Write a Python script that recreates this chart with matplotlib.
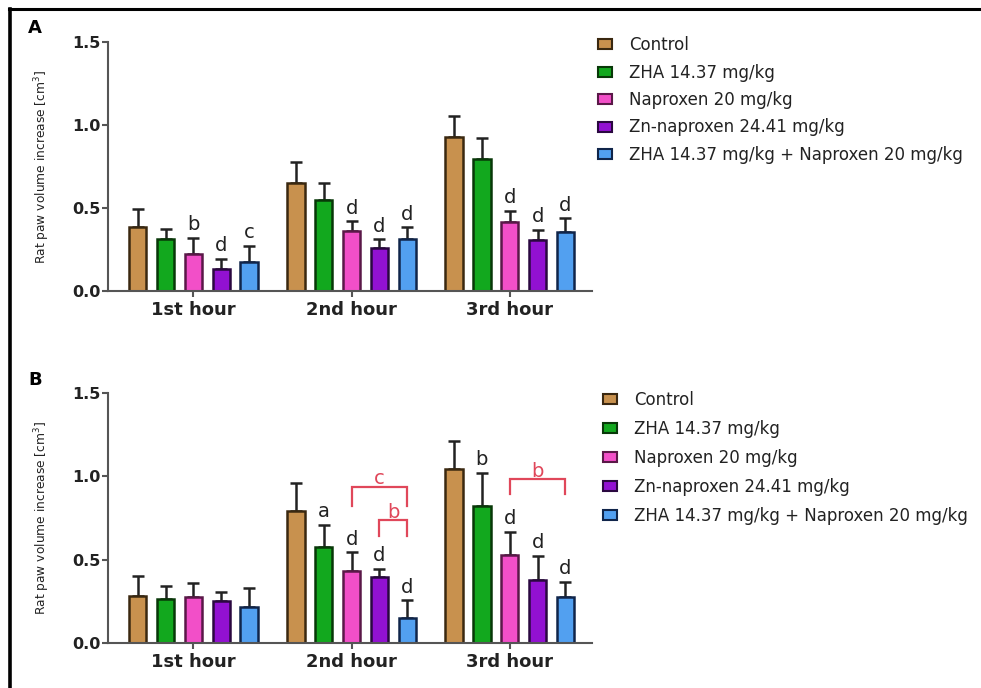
import matplotlib
matplotlib.use("Agg")
import matplotlib.pyplot as plt
from matplotlib.lines import Line2D
from matplotlib.patches import Patch
import numpy as np

plt.rcParams['font.family'] = ['DejaVu Sans']

hours = ["1st hour", "2nd hour", "3rd hour"]
groups = ["Control", "ZHA 14.37 mg/kg", "Naproxen 20 mg/kg",
          "Zn-naproxen 24.41 mg/kg", "ZHA 14.37 mg/kg + Naproxen 20 mg/kg"]
fill_colors = ["#C8914E", "#12A81E", "#F24FC8", "#9211D2", "#52A0F0"]
edge_colors = ["#3A2810", "#083808", "#5A1848", "#2A0840", "#10254A"]

# Panel A: mean paw volume increase and SD (upper whisker) per group, per hour
a_means = {
    "Control":   [0.388, 0.653, 0.927],
    "ZHA":       [0.312, 0.547, 0.794],
    "Naproxen":  [0.221, 0.360, 0.418],
    "Zn":        [0.131, 0.257, 0.308],
    "Combo":     [0.175, 0.312, 0.358],
}
a_sd = {
    "Control":   [0.106, 0.127, 0.130],
    "ZHA":       [0.060, 0.106, 0.127],
    "Naproxen":  [0.101, 0.060, 0.066],
    "Zn":        [0.062, 0.055, 0.060],
    "Combo":     [0.096, 0.072, 0.080],
}
a_letters = {
    "Control":   ["", "", ""],
    "ZHA":       ["", "", ""],
    "Naproxen":  ["b", "d", "d"],
    "Zn":        ["d", "d", "d"],
    "Combo":     ["c", "d", "d"],
}

# Panel B
b_means = {
    "Control":   [0.284, 0.790, 1.046],
    "ZHA":       [0.266, 0.574, 0.824],
    "Naproxen":  [0.276, 0.430, 0.526],
    "Zn":        [0.252, 0.394, 0.380],
    "Combo":     [0.214, 0.148, 0.276],
}
b_sd = {
    "Control":   [0.120, 0.168, 0.164],
    "ZHA":       [0.076, 0.136, 0.196],
    "Naproxen":  [0.084, 0.114, 0.140],
    "Zn":        [0.054, 0.050, 0.142],
    "Combo":     [0.118, 0.108, 0.090],
}
b_letters = {
    "Control":   ["", "", ""],
    "ZHA":       ["", "a", "b"],
    "Naproxen":  ["", "d", "d"],
    "Zn":        ["", "d", "d"],
    "Combo":     ["", "d", "d"],
}
# Between-treatment comparisons in panel B: (hour, first group, second group, y, label)
b_brackets = [
    (1, 2, 4, 0.936, "c"),
    (1, 3, 4, 0.736, "b"),
    (2, 2, 4, 0.982, "b"),
]
bracket_drop = [0.115, 0.094, 0.086]

keys = ["Control", "ZHA", "Naproxen", "Zn", "Combo"]
W, H = 981, 688
fig = plt.figure(figsize=(W / 100, H / 100), dpi=100)

x = np.arange(len(hours))
step = 0.176
width = 0.11
offsets = (np.arange(5) - 2) * step


def panel(rect, means, sds, letters, label, label_y):
    ax = fig.add_axes(rect)
    for i, k in enumerate(keys):
        xs = x + offsets[i]
        ax.bar(xs, means[k], width=width, color=fill_colors[i],
               edgecolor=edge_colors[i], linewidth=1.8, zorder=2)
        ax.errorbar(xs, means[k], yerr=[np.zeros(3), sds[k]], fmt="none",
                    ecolor="#222222", elinewidth=1.8, capsize=4.5,
                    capthick=1.8, zorder=1)
        for j in range(3):
            if letters[k][j]:
                ax.annotate(letters[k][j], (xs[j], means[k][j] + sds[k][j]),
                            xytext=(0, 5.5), textcoords="offset points",
                            ha="center", va="baseline", fontsize=14,
                            color="#222222")
    ax.set_xlim(-0.54, 2.52)
    ax.set_ylim(0, 1.5)
    ax.set_yticks([0.0, 0.5, 1.0, 1.5])
    ax.set_yticklabels(["0.0", "0.5", "1.0", "1.5"])
    ax.set_xticks(x)
    ax.set_xticklabels(hours)
    for s in ["top", "right"]:
        ax.spines[s].set_visible(False)
    for s in ["left", "bottom"]:
        ax.spines[s].set_color("#555555")
        ax.spines[s].set_linewidth(1.5)
    ax.tick_params(axis="y", length=4, width=1.5, color="#555555", pad=1,
                   labelsize=11.5)
    ax.tick_params(axis="x", length=4, width=1.5, color="#555555", pad=3,
                   labelsize=13)
    for t in ax.get_xticklabels() + ax.get_yticklabels():
        t.set_fontweight("bold")
        t.set_color("#222222")
    ax.set_ylabel("Rat paw volume increase [cm$^3$]", fontsize=8.8,
                  color="#222222")
    ax.yaxis.set_label_coords(-0.116, 0.5)
    fig.text(28 / W, 1 - label_y / H, label, fontsize=13, fontweight="bold",
             va="baseline", ha="left")
    return ax


ax_a = panel([108 / W, 1 - 291 / H, 484 / W, 249 / H],
             a_means, a_sd, a_letters, "A", 33)
ax_b = panel([108 / W, 1 - 643 / H, 484 / W, 250 / H],
             b_means, b_sd, b_letters, "B", 385)

red = "#E0475A"
for (h, g1, g2, yv, lab), drop in zip(b_brackets, bracket_drop):
    x1 = x[h] + offsets[g1]
    x2 = x[h] + offsets[g2]
    ax_b.plot([x1, x1, x2, x2], [yv - drop, yv, yv, yv - drop], color=red,
              lw=1.6, solid_joinstyle="miter", zorder=3)
    ax_b.annotate(lab, ((x1 + x2) / 2, yv), xytext=(0, 2),
                  textcoords="offset points", ha="center", va="baseline",
                  fontsize=14, color=red)

handles = [Patch(facecolor=fill_colors[i], edgecolor=edge_colors[i],
                 linewidth=1.5) for i in range(5)]
for top, left, spacing in [(36, 598, 0.57), (391, 603, 0.66)]:
    fig.legend(handles, groups, loc="upper left",
               bbox_to_anchor=(left / W, 1 - top / H),
               bbox_transform=fig.transFigure, frameon=False, fontsize=12,
               handlelength=0.85, handleheight=0.55, handletextpad=1.0,
               labelspacing=spacing, borderpad=0, borderaxespad=0,
               labelcolor="#222222")

# Frame lines along the top and left edge
fig.add_artist(Line2D([9 / W, 1], [1 - 9 / H, 1 - 9 / H], color="black",
                      lw=2.2, transform=fig.transFigure))
fig.add_artist(Line2D([10 / W, 10 / W], [0, 1 - 9 / H], color="black",
                      lw=2.6, transform=fig.transFigure))

fig.savefig("out.png", dpi=100)
